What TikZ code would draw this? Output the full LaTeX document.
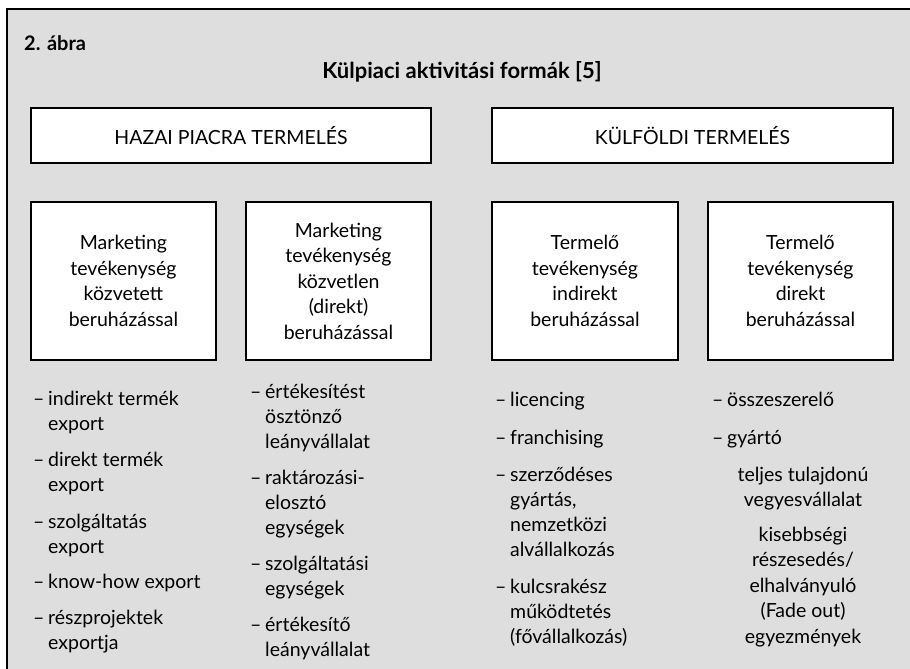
\documentclass[tikz,border=0pt]{standalone}
\usepackage{fontspec}
\setmainfont{Lato}
\newcommand\dsh{\makebox[15pt][l]{–}}
\newcommand\ind{\hspace*{15pt}}
\newcommand\Tl[1]{\begin{tabular}[t]{@{}l@{}}#1\end{tabular}}
\newcommand\Tc[1]{\begin{tabular}[t]{@{}c@{}}#1\end{tabular}}
\begin{document}
\begin{tikzpicture}[x=1pt,y=-1pt,
  frame/.style={line width=1.6pt},
  box/.style={draw=black, line width=1.8pt, fill=white, inner sep=0pt, align=center,
              font=\fontsize{19.5}{25.5}\selectfont},
  lst/.style={anchor=base west, inner sep=0pt, font=\fontsize{19.5}{25}\selectfont},
  lstc/.style={anchor=base, inner sep=0pt, font=\fontsize{19.5}{25.5}\selectfont}]
\useasboundingbox (0,0) rectangle (910,669);
\fill[black!13] (7,9) rectangle (910,669);
\draw[frame] (7,669) -- (7,9) -- (910,9);

\node[anchor=west, inner sep=0pt, font=\bfseries\fontsize{20}{24}\selectfont] (abra) at (24,43) {2. ábra};
\node[inner sep=0pt, font=\bfseries\fontsize{22}{26}\selectfont] (title) at (462,72) {Külpiaci aktivitási formák [5]};

\node[box, minimum width=400pt, minimum height=55pt] (hazai) at (231,135.5) {HAZAI PIACRA TERMELÉS};
\node[box, minimum width=401pt, minimum height=55pt] (kulf) at (692.5,135.5) {KÜLFÖLDI TERMELÉS};

\node[box, minimum width=185pt, minimum height=158pt] (m1) at (123.5,281) {Marketing\\tevékenység\\közvetett\\beruházással};
\node[box, minimum width=185pt, minimum height=158pt] (m2) at (338.5,281) {Marketing\\tevékenység\\közvetlen\\(direkt)\\beruházással};
\node[box, minimum width=186pt, minimum height=158pt] (m3) at (585,281) {Termelő\\tevékenység\\indirekt\\beruházással};
\node[box, minimum width=185pt, minimum height=158pt] (m4) at (800.5,281) {Termelő\\tevékenység\\direkt\\beruházással};

% column 1
\node[lst] (a1) at (33,405) {\Tl{\dsh indirekt termék\\\ind export}};
\node[lst] (a2) at (33,466) {\Tl{\dsh direkt termék\\\ind export}};
\node[lst] (a3) at (33,528) {\Tl{\dsh szolgáltatás\\\ind export}};
\node[lst] (a4) at (33,588) {\Tl{\dsh know-how export}};
\node[lst] (a5) at (33,624) {\Tl{\dsh részprojektek\\\ind exportja}};
% column 2
\node[lst] (b1) at (250,398) {\Tl{\dsh értékesítést\\\ind ösztönző\\\ind leányvállalat}};
\node[lst] (b2) at (250,484) {\Tl{\dsh raktározási-\\\ind elosztó\\\ind egységek}};
\node[lst] (b3) at (250,570) {\Tl{\dsh szolgáltatási\\\ind egységek}};
\node[lst] (b4) at (250,631) {\Tl{\dsh értékesítő\\\ind leányvállalat}};
% column 3
\node[lst] (c1) at (495,406) {\Tl{\dsh licencing}};
\node[lst] (c2) at (495,444) {\Tl{\dsh franchising}};
\node[lst] (c3) at (495,481) {\Tl{\dsh szerződéses\\\ind gyártás,\\\ind nemzetközi\\\ind alvállalkozás}};
\node[lst] (c4) at (495,593) {\Tl{\dsh kulcsrakész\\\ind működtetés\\\ind (fővállalkozás)}};
% column 4
\node[lst] (d1) at (712,406) {\Tl{\dsh összeszerelő}};
\node[lst] (d2) at (712,444) {\Tl{\dsh gyártó}};
\node[lstc] (d3) at (803,481) {\Tc{teljes tulajdonú\\vegyesvállalat}};
\node[lstc] (d4) at (803,541) {\Tc{kisebbségi\\részesedés/\\elhalványuló\\(Fade out)\\egyezmények}};
\end{tikzpicture}
\end{document}
